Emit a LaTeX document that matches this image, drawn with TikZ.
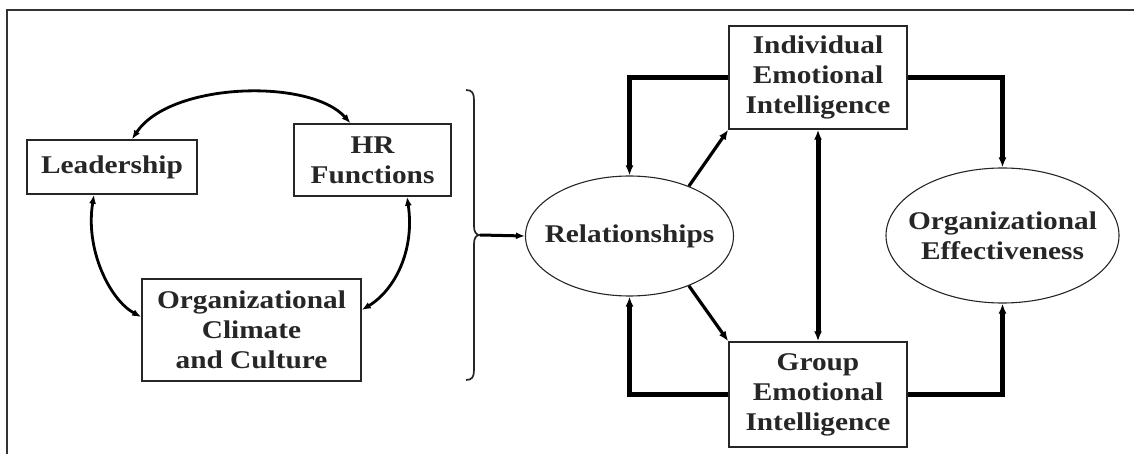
\documentclass[tikz,border=0pt]{standalone}
\usepackage{fontspec}
\setmainfont{Liberation Serif}[FakeStretch=1.15]
\usetikzlibrary{arrows.meta,shapes.geometric}
\newcommand\dgfont{\fontsize{25.5}{30}\selectfont\bfseries}
\begin{document}
\begin{tikzpicture}[x=1pt,y=-1pt,
  box/.style={draw=black!85, line width=1.5pt, inner sep=0pt, align=center, font=\dgfont, text=black!85},
  ell/.style={draw=black!85, ellipse, line width=1.1pt, inner ysep=0pt, inner xsep=-13pt, align=center, font=\dgfont, text=black!85},
  arcarrow/.style={line width=2.8pt, {Latex[length=9pt,width=7pt]}-{Latex[length=9pt,width=7pt]}},
  elbow/.style={line width=4.2pt, -{Latex[length=10pt,width=8pt]}},
  diag/.style={line width=3.2pt, -{Latex[length=10pt,width=8pt]}},
  dbl/.style={line width=5pt, {Latex[length=10pt,width=8pt]}-{Latex[length=10pt,width=8pt]}},
  frame/.style={draw=black!80, line width=1.2pt}
]
\useasboundingbox (0,0) rectangle (1134,454);
\draw[frame] (7,454) -- (7,10) -- (1134,10);

\node[box, minimum width=170, minimum height=54] (lead) at (112,167) {Leadership};
\node[box, minimum width=157, minimum height=72] (hr) at (372.5,160) {HR\\Functions};
\node[box, minimum width=219, minimum height=102] (occ) at (251.5,330) {Organizational\\Climate\\and Culture};

\draw[arcarrow] ([xshift=20pt]lead.north) .. controls (170,82) and (310,78) .. ([xshift=-22pt]hr.north);
\draw[arcarrow] ([xshift=-18pt]lead.south) .. controls (85,250) and (110,300) .. ([yshift=13pt]occ.west);
\draw[arcarrow] ([xshift=34.5pt]hr.south) .. controls (415,250) and (395,290) .. ([yshift=20pt]occ.east);

% brace
\coordinate (tip) at (480,235);
\draw[line width=1.7pt, black!85] (466,90) .. controls (472,90) and (474,93) .. (474,100) -- (474,226)
  .. controls (474,232) and (476,235) .. (tip) .. controls (476,235) and (474,238) .. (474,244)
  -- (474,370) .. controls (474,377) and (472,380) .. (466,380);

\node[ell, minimum width=208, minimum height=120] (rel) at (629.5,236) {Relationships};
\node[box, minimum width=178, minimum height=103] (ind) at (818,77.5) {Individual\\Emotional\\Intelligence};
\node[box, minimum width=178, minimum height=105] (grp) at (818,394.5) {Group\\Emotional\\Intelligence};
\node[ell, minimum width=233, minimum height=135] (oe) at (1002.5,235.5) {Organizational\\Effectiveness};

\draw[line width=3pt, -{Latex[length=9pt,width=7pt]}] (tip) -- (rel.west);

\draw[elbow] (ind.west) -| (rel.north);
\draw[elbow] (grp.west) -| (rel.south);
\draw[elbow] (ind.east) -| (oe.north);
\draw[elbow] (grp.east) -| (oe.south);
\draw[diag] (rel.40) -- (ind.south west);
\draw[diag] (rel.-40) -- (grp.north west);
\draw[dbl] (ind.south) -- (grp.north);
\end{tikzpicture}
\end{document}
